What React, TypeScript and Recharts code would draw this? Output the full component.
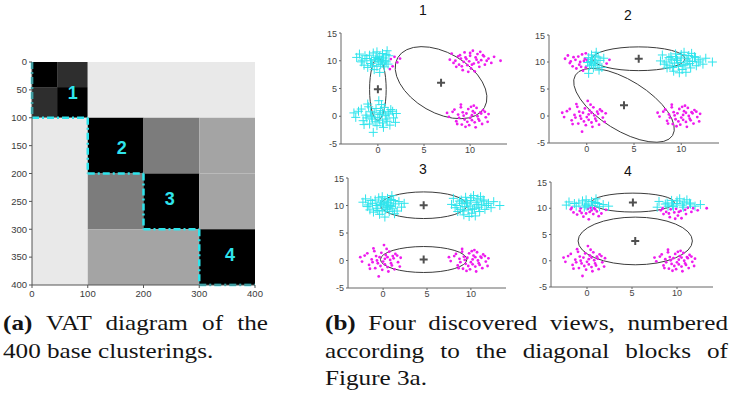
import React from 'react';
import { ScatterChart, Scatter, XAxis, YAxis, ReferenceArea, ReferenceLine } from 'recharts';

// ---------------------------------------------------------------------------
// Figure 3: (a) VAT diagram of 400 base clusterings, (b) four discovered views
// ---------------------------------------------------------------------------

const CYAN = '#2fe4ec';
const MAGENTA = '#ee1cee';
const SANS = '"Liberation Sans", Arial, sans-serif';
const SERIF = '"Liberation Serif", "Times New Roman", serif';

// ----- (a) VAT diagram -----
const VAT_X_TICKS = [0, 100, 200, 300, 400];
const VAT_Y_TICKS = [0, 50, 100, 150, 200, 250, 300, 350, 400];

// dissimilarity blocks (row range y0..y1, column range x0..x1, value d in 0..1)
const VAT_BLOCKS = [
  { x0: 0, x1: 45, y0: 0, y1: 45, d: 0 },
  { x0: 45, x1: 100, y0: 0, y1: 45, d: 0.18 },
  { x0: 0, x1: 45, y0: 45, y1: 100, d: 0.18 },
  { x0: 45, x1: 100, y0: 45, y1: 100, d: 0 },
  { x0: 100, x1: 400, y0: 0, y1: 100, d: 0.913 },
  { x0: 0, x1: 100, y0: 100, y1: 400, d: 0.913 },
  { x0: 100, x1: 200, y0: 100, y1: 200, d: 0 },
  { x0: 200, x1: 300, y0: 100, y1: 200, d: 0.486 },
  { x0: 300, x1: 400, y0: 100, y1: 200, d: 0.643 },
  { x0: 100, x1: 200, y0: 200, y1: 300, d: 0.486 },
  { x0: 200, x1: 300, y0: 200, y1: 300, d: 0 },
  { x0: 300, x1: 400, y0: 200, y1: 300, d: 0.643 },
  { x0: 100, x1: 300, y0: 300, y1: 400, d: 0.643 },
  { x0: 300, x1: 400, y0: 300, y1: 400, d: 0 },
];

const VAT_STAIRS = [
  [0, 0], [0, 100], [100, 100], [100, 200], [200, 200],
  [200, 300], [300, 300], [300, 400], [400, 400],
];

const VAT_LABELS = [
  { x: 73, y: 56, label: '1' },
  { x: 161, y: 154, label: '2' },
  { x: 247, y: 245, label: '3' },
  { x: 355, y: 346, label: '4' },
];

// ----- (b) data set: four gaussian-ish clusters -----
const X_DOMAIN = [-4, 14];
const Y_DOMAIN = [-5, 15];
const X_TICKS = [0, 5, 10];
const Y_TICKS = [-5, 0, 5, 10, 15];

const TOP_LEFT = [
  [-0.3, 10.2], [0.5, 9.6], [-1.2, 10.4], [0.9, 11.1], [-0.6, 9.1], [0.2, 10.8], [1.4, 10.3], [-1.8, 9.8],
  [0.7, 8.9], [-0.1, 11.6], [-2.3, 10.6], [1.1, 9.4], [0.4, 10.1], [-0.9, 11.0], [1.8, 10.7], [-0.4, 8.4],
  [0.1, 9.9], [-1.5, 9.2], [2.4, 10.4], [0.6, 10.5], [-0.7, 10.0], [1.0, 11.8], [-1.1, 8.8], [0.3, 9.3],
  [-0.2, 10.6], [1.6, 9.0], [-2.0, 11.2], [0.8, 10.0], [-0.5, 11.4], [1.3, 8.5], [0.0, 10.4], [-1.4, 10.9],
  [2.1, 9.7], [0.5, 11.3], [-0.8, 9.5], [1.2, 10.9], [-0.1, 9.0], [0.9, 9.8], [-1.7, 10.1], [0.2, 7.9],
];
const TOP_RIGHT = [
  [9.6, 10.3], [10.4, 9.5], [8.7, 10.8], [11.2, 10.1], [9.1, 9.0], [10.8, 11.2], [12.0, 10.4], [8.2, 9.6],
  [10.1, 8.6], [9.4, 11.5], [11.6, 9.3], [10.6, 10.6], [7.8, 10.2], [9.9, 9.9], [11.0, 8.9], [8.9, 11.0],
  [12.6, 10.7], [10.3, 11.8], [9.2, 8.3], [11.4, 11.0], [10.0, 10.9], [8.5, 8.9], [10.9, 9.7], [9.7, 9.2],
  [13.3, 10.0], [8.0, 11.3], [10.5, 8.1], [11.8, 10.0], [9.5, 10.6], [10.2, 9.3], [8.4, 10.0], [11.1, 11.6],
  [9.8, 8.0], [10.7, 10.2], [9.0, 10.4], [12.3, 9.6], [10.0, 11.4], [8.8, 9.3], [11.5, 10.8], [9.3, 9.8],
];
const BOTTOM_LEFT = [
  [0.2, 0.3], [-0.6, -0.5], [1.1, 0.8], [-1.3, 0.2], [0.5, -1.2], [-0.2, 1.4], [1.7, -0.3], [-2.1, 0.9],
  [0.8, 0.1], [-0.9, -1.4], [0.0, -0.2], [1.4, 1.2], [-1.6, -0.8], [0.4, 2.1], [-0.4, 0.6], [2.0, 0.5],
  [-1.0, 1.7], [0.6, -2.0], [-2.4, -0.2], [1.0, -0.9], [-0.7, 0.0], [0.3, 1.0], [-1.8, 1.3], [1.2, 0.4],
  [-0.3, -1.0], [0.9, -0.5], [-1.2, -0.3], [0.1, 2.8], [-0.5, -2.9], [1.6, 0.9], [-2.6, 0.6], [0.7, 1.6],
  [-0.8, 0.8], [0.2, -0.7], [1.9, -1.1], [-1.5, -1.5], [0.5, 0.6], [-0.1, -1.7], [1.3, -1.6], [-1.1, 2.2],
];
const BOTTOM_RIGHT = [
  [10.2, 0.2], [9.4, -0.6], [11.1, 0.7], [8.7, 0.3], [10.5, -1.1], [9.8, 1.3], [11.7, -0.2], [8.1, 0.8],
  [10.8, 0.0], [9.1, -1.5], [10.0, -0.3], [11.4, 1.1], [8.5, -0.9], [10.4, 1.9], [9.6, 0.5], [12.0, 0.4],
  [9.0, 1.6], [10.6, -2.0], [7.7, -0.1], [11.0, -0.8], [9.3, 0.1], [10.3, 0.9], [8.3, 1.2], [11.2, 0.5],
  [9.7, -1.0], [10.9, -0.5], [8.8, -0.3], [10.1, 1.7], [9.5, -1.9], [11.6, 0.8], [7.5, 0.6], [10.7, 1.5],
  [9.2, 0.7], [10.2, -0.7], [11.9, -1.0], [8.6, -1.4], [10.5, 0.6], [9.9, -1.6], [11.3, -1.4], [9.0, 2.1],
];

type Pt = number[];
const toXY = (pts: Pt[]) => pts.map(([x, y]) => ({ x, y }));

// cluster membership in each view (true -> cyan "+", false -> magenta ".")
const VIEW_1_CYAN = (p: Pt, c: string) => (c === 'TL' ? p[0] < 1.3 : c === 'BL');
const VIEW_2_CYAN = (p: Pt, c: string) => c === 'TR' || (c === 'TL' && p[0] > 0 && p[0] < 2);
const VIEW_3_CYAN = (_p: Pt, c: string) => c === 'TL' || c === 'TR';
const VIEW_4_CYAN = (p: Pt, c: string) => (c === 'TL' || c === 'TR') && p[1] >= 10.2;

// ellipses: centre + two conjugate semi-axis vectors (data units); centre is the cluster mean
const VIEW_1_ELLIPSES = [
  { cx: 0, cy: 4.85, ux: 0.9, uy: 0, vx: 0, vy: 5.6 },
  { cx: 6.85, cy: 6.05, ux: 4.7, uy: -4.5, vx: -1.63, vy: -4.68 },
];
const VIEW_2_ELLIPSES = [
  { cx: 5.5, cy: 10.6, ux: 4.9, uy: 0, vx: 0, vy: 2.2 },
  { cx: 3.94, cy: 1.98, ux: 5.14, uy: -5.6, vx: -1.41, vy: -3.93 },
];
const VIEW_3_ELLIPSES = [
  { cx: 4.62, cy: 10.05, ux: 4.92, uy: 0, vx: 0, vy: 2.42 },
  { cx: 4.62, cy: 0.18, ux: 4.92, uy: 0, vx: 0, vy: 2.36 },
];
const VIEW_4_ELLIPSES = [
  { cx: 5.1, cy: 11.08, ux: 4.6, uy: 0, vx: 0, vy: 1.8 },
  { cx: 5.36, cy: 3.77, ux: 6.35, uy: 0, vx: 0, vy: 4.54 },
];

const CLUSTERS: [string, Pt[]][] = [
  ['TL', TOP_LEFT], ['TR', TOP_RIGHT], ['BL', BOTTOM_LEFT], ['BR', BOTTOM_RIGHT],
];

function split(isCyan: (p: Pt, c: string) => boolean) {
  const cyan: Pt[] = [];
  const magenta: Pt[] = [];
  CLUSTERS.forEach(([name, pts]) => pts.forEach(p => (isCyan(p, name) ? cyan : magenta).push(p)));
  return { cyan: toXY(cyan), magenta: toXY(magenta) };
}

const gray = (d: number) => {
  const v = Math.round(255 * d);
  return `rgb(${v},${v},${v})`;
};

const PlusMark = (props: any) => {
  const { cx, cy } = props;
  if (cx == null || cy == null) return null;
  return <path d={`M${cx - 4.5},${cy}h9M${cx},${cy - 4.5}v9`} stroke={CYAN} strokeWidth={1} fill="none" />;
};
const DotMark = (props: any) => {
  const { cx, cy } = props;
  if (cx == null || cy == null) return null;
  return <circle cx={cx} cy={cy} r={1.4} fill={MAGENTA} />;
};
const CentroidMark = (props: any) => {
  const { cx, cy } = props;
  if (cx == null || cy == null) return null;
  return <path d={`M${cx - 4},${cy}h8M${cx},${cy - 4}v8`} stroke="#505050" strokeWidth={2} fill="none" />;
};
const VatLabel = (props: any) => {
  const { cx, cy, payload } = props;
  if (cx == null || cy == null) return null;
  return (
    <text x={cx} y={cy} textAnchor="middle" dominantBaseline="central"
      fill={CYAN} fontSize={18} fontWeight="bold" fontFamily={SANS}>
      {payload?.label}
    </text>
  );
};

const ellipseShape = (e: any) => (p: any) => {
  const sx = p.width / 2;
  const sy = p.height / 2;
  const cx = p.x + sx;
  const cy = p.y + sy;
  const m = [e.ux * sx, -e.uy * sy, e.vx * sx, -e.vy * sy, cx, cy].join(',');
  return (
    <ellipse cx={0} cy={0} rx={1} ry={1} transform={`matrix(${m})`}
      fill="none" stroke="#3c3c3c" strokeWidth={1} vectorEffect="non-scaling-stroke" />
  );
};

function VatDiagram() {
  const tick = { fontSize: 9.5, fill: '#3a3a3a', fontFamily: SANS };
  return (
    <div style={{ position: 'absolute', left: 0, top: 40 }}>
      <ScatterChart width={270} height={265} margin={{ top: 22, right: 15, bottom: 0, left: 2 }}>
        <XAxis type="number" dataKey="x" domain={[0, 400]} ticks={VAT_X_TICKS} height={20}
          tick={tick} tickSize={3}
          axisLine={{ stroke: '#555' }} tickLine={{ stroke: '#555' }} allowDataOverflow />
        <YAxis type="number" dataKey="y" domain={[0, 400]} ticks={VAT_Y_TICKS} reversed width={30}
          tick={tick} tickSize={3}
          axisLine={{ stroke: '#555' }} tickLine={{ stroke: '#555' }} allowDataOverflow />
        {VAT_BLOCKS.map((b, i) => (
          <ReferenceArea key={i} x1={b.x0} x2={b.x1} y1={b.y0} y2={b.y1}
            fill={gray(b.d)} fillOpacity={1} stroke="none" ifOverflow="visible" />
        ))}
        {VAT_STAIRS.slice(1).map((p, i) => (
          <ReferenceLine key={i} ifOverflow="visible"
            segment={[{ x: VAT_STAIRS[i][0], y: VAT_STAIRS[i][1] }, { x: p[0], y: p[1] }]}
            stroke={CYAN} strokeWidth={2.5} strokeDasharray="7 3 2 3" />
        ))}
        <Scatter data={VAT_LABELS} dataKey="y" shape={VatLabel} isAnimationActive={false} />
      </ScatterChart>
    </div>
  );
}

function ViewPanel({ frame, title, titleX, titleY, isCyan, ellipses }: any) {
  const { x0, x1, y0, y1 } = frame;
  const { cyan, magenta } = split(isCyan);
  const centres = ellipses.map((e: any) => ({ x: e.cx, y: e.cy }));
  const padL = 22, padT = 4, padR = 6, padB = 16;
  const axisTick = { fontSize: 9, fill: '#444', fontFamily: SANS };
  return (
    <>
      <div style={{
        position: 'absolute', left: titleX - 20, top: titleY - 10, width: 40, textAlign: 'center',
        fontFamily: SANS, fontSize: 14, lineHeight: '20px', color: '#111',
      }}>{title}</div>
      <div style={{ position: 'absolute', left: x0 - padL, top: y0 - padT }}>
        <ScatterChart width={x1 - x0 + padL + padR} height={y1 - y0 + padT + padB}
          margin={{ top: padT, right: padR, bottom: 2, left: 2 }}>
          <XAxis type="number" dataKey="x" domain={X_DOMAIN} ticks={X_TICKS} height={14}
            tick={axisTick} tickSize={2} tickMargin={1}
            axisLine={{ stroke: '#666' }} tickLine={{ stroke: '#666' }} allowDataOverflow />
          <YAxis type="number" dataKey="y" domain={Y_DOMAIN} ticks={Y_TICKS} width={20}
            tick={axisTick} tickSize={2} tickMargin={2}
            axisLine={{ stroke: '#666' }} tickLine={{ stroke: '#666' }} allowDataOverflow />
          {ellipses.map((e: any, i: number) => (
            <ReferenceArea key={i} x1={e.cx - 1} x2={e.cx + 1} y1={e.cy - 1} y2={e.cy + 1}
              ifOverflow="visible" shape={ellipseShape(e)} />
          ))}
          <Scatter data={magenta} shape={DotMark} isAnimationActive={false} />
          <Scatter data={cyan} shape={PlusMark} isAnimationActive={false} />
          <Scatter data={centres} shape={CentroidMark} isAnimationActive={false} />
        </ScatterChart>
      </div>
    </>
  );
}

// caption text: Times-like face stretched horizontally toward the width of Computer Modern
const STRETCH = 1.17;

function Caption({ left, width, lines }: { left: number; width: number; lines: React.ReactNode[] }) {
  return (
    <div style={{
      position: 'absolute', left, top: 310, width: width / STRETCH,
      transform: `scaleX(${STRETCH})`, transformOrigin: '0 0',
      fontFamily: SERIF, fontSize: 21.5, lineHeight: '27.5px', color: '#141414',
    }}>
      {lines.map((l, i) => (
        <div key={i} style={{
          whiteSpace: 'nowrap',
          ...(i < lines.length - 1 ? { textAlign: 'justify', textAlignLast: 'justify' } : {}),
        }}>
          {l}
        </div>
      ))}
    </div>
  );
}

export default function App() {
  return (
    <div style={{ position: 'absolute', left: 0, top: 0, width: 732, height: 396, background: '#fff', overflow: 'hidden' }}>
      <VatDiagram />

      <ViewPanel frame={{ x0: 341, x1: 507, y0: 33, y1: 144 }} title="1" titleX={423} titleY={10}
        isCyan={VIEW_1_CYAN} ellipses={VIEW_1_ELLIPSES} />
      <ViewPanel frame={{ x0: 549, x1: 719, y0: 35, y1: 143 }} title="2" titleX={628} titleY={15}
        isCyan={VIEW_2_CYAN} ellipses={VIEW_2_ELLIPSES} />
      <ViewPanel frame={{ x0: 348, x1: 506, y0: 178, y1: 288 }} title="3" titleX={423} titleY={169}
        isCyan={VIEW_3_CYAN} ellipses={VIEW_3_ELLIPSES} />
      <ViewPanel frame={{ x0: 551, x1: 713, y0: 182, y1: 287 }} title="4" titleX={628} titleY={171}
        isCyan={VIEW_4_CYAN} ellipses={VIEW_4_ELLIPSES} />

      <Caption left={3} width={265} lines={[
        <><b>(a)</b> VAT diagram of the</>,
        <>400 base clusterings.</>,
      ]} />
      <Caption left={325} width={403} lines={[
        <><b>(b)</b> Four discovered views, numbered</>,
        <>according to the diagonal blocks of</>,
        <>Figure 3a.</>,
      ]} />
    </div>
  );
}
